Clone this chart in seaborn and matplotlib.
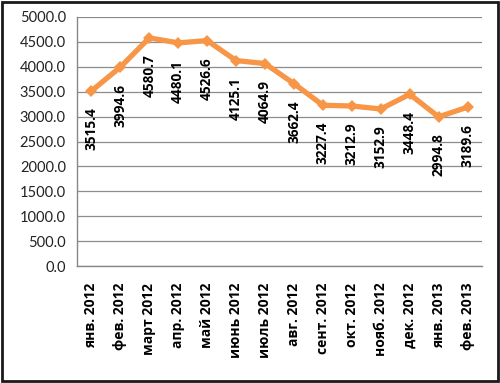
import matplotlib
matplotlib.use("Agg")
import matplotlib.pyplot as plt
import seaborn as sns
import pandas as pd
from matplotlib.patches import Rectangle

months = ["янв. 2012", "фев. 2012", "март 2012", "апр. 2012", "май 2012", "июнь 2012",
          "июль 2012", "авг. 2012", "сент. 2012", "окт. 2012", "нояб. 2012", "дек. 2012",
          "янв. 2013", "фев. 2013"]
values = [3515.4, 3994.6, 4580.7, 4480.1, 4526.6, 4125.1, 4064.9, 3662.4,
          3227.4, 3212.9, 3152.9, 3448.4, 2994.8, 3189.6]
yticks = [0, 500, 1000, 1500, 2000, 2500, 3000, 3500, 4000, 4500, 5000]

sns.set_style("white")
plt.rcParams['font.family'] = ['Lato', 'DejaVu Sans']
BOLD_FAMILY = ['Open Sans', 'DejaVu Sans']

df = pd.DataFrame({"month": months, "value": values})

fig = plt.figure(figsize=(5.0, 3.83), dpi=100)
ax = fig.add_axes([77/500, 1 - 266/383, (482-77)/500, (266-17)/383])

sns.lineplot(data=df, x="month", y="value", ax=ax, sort=False, color="#F79646",
             linewidth=3.8, marker="D", markersize=6.5, markeredgewidth=0)

for i, v in enumerate(values):
    ax.annotate(f"{v:.1f}", (i, v), xytext=(0, -12), textcoords="offset points",
                rotation=90, ha="center", va="top", fontsize=9.8, fontweight="bold",
                color="black", family=BOLD_FAMILY)

ax.set_ylim(0, 5000)
ax.set_xlim(-0.5, len(months) - 0.5)
ax.set_yticks(yticks)
ax.set_yticklabels([f"{t:.1f}" for t in yticks], fontsize=10.5, color="#222222")
ax.set_xticks(range(len(months)))
ax.set_xticklabels(months, rotation=90, fontsize=10, fontweight="bold", color="black",
                   family=BOLD_FAMILY)
ax.set_xticks([i - 0.5 for i in range(len(months) + 1)], minor=True)
ax.tick_params(axis="x", which="major", length=0, pad=12)
ax.tick_params(axis="x", which="minor", length=5, color="#888888", direction="out", width=1)
ax.tick_params(axis="y", length=5, color="#888888", direction="out", width=1, pad=3)
ax.set_xlabel("")
ax.set_ylabel("")
ax.grid(axis="y", color="#8c8c8c", linewidth=0.9)
ax.set_axisbelow(True)
for s in ["top", "right"]:
    ax.spines[s].set_visible(False)
for s in ["left", "bottom"]:
    ax.spines[s].set_color("#888888")
    ax.spines[s].set_linewidth(1)

fig.patches.append(Rectangle((0.003, 0.004), 0.992, 0.992, transform=fig.transFigure,
                             fill=False, edgecolor="#1a1a1a", linewidth=2))

fig.savefig("out.png", dpi=100)
